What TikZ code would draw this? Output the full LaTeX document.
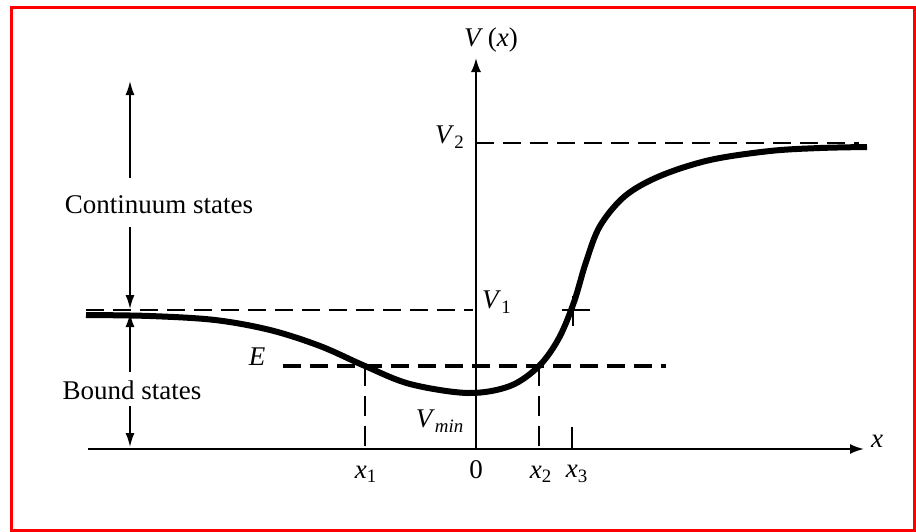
\documentclass[tikz,border=0pt]{standalone}
\usepackage{fontspec}
\setmainfont{Liberation Serif}
\usetikzlibrary{arrows.meta,positioning}
\definecolor{FrameRed}{HTML}{FF0000}

\begin{document}
\begin{tikzpicture}[x=0.5pt, y=-0.5pt,
  lbl/.style={inner sep=0pt, font=\fontsize{13.5}{16}\selectfont},
  axis/.style={line width=1pt, -{Latex[length=7pt, width=5pt]}},
  arr/.style={line width=0.8pt, -{Latex[length=7pt, width=4.5pt]}},
  level/.style={line width=1.4pt, dash pattern=on 9pt off 4.5pt},
  drop/.style={line width=0.9pt, dash pattern=on 10pt off 5pt},
  pot/.style={line width=3pt, line join=round}]
  \useasboundingbox (0,0) rectangle (916,531);
  \draw[FrameRed, line width=1.5pt] (11,7) rectangle (914,530);

  % axes
  \coordinate (O) at (476,449);
  \coordinate (xs) at (88,449);
  \coordinate (xe) at (864,449);
  \coordinate (ye) at (476,58);
  \draw[axis] (xs) -- (xe);
  \draw[axis] (O) -- (ye);
  \node[lbl] (xlab) at (877,441) {\textit{x}};
  \node[lbl] (vlab) at (491,40) {\textit{V}\,(\textit{x})};

  % energy levels
  \coordinate (v2a) at (476,143);
  \coordinate (v2b) at (859,143);
  \coordinate (v1a) at (86,310);
  \coordinate (v1b) at (473,310);
  \coordinate (ea) at (283,366);
  \coordinate (eb) at (666,366);
  \draw[level] (v2a) -- (v2b);
  \draw[level] (v1a) -- (v1b);
  \draw[level, line width=1.7pt] (ea) -- (eb);
  \node[lbl] (v2lab) at (450,137) {\textit{V}\textsubscript{2}};
  \node[lbl] (v1lab) at (497,302) {\textit{V}\textsubscript{1}};
  \node[lbl] (elab) at (257,357) {\textit{E}};
  \node[lbl] (vminlab) at (440,421) {\textit{V}\textsubscript{\textit{min}}};

  % potential curve
  \draw[pot] plot[smooth, tension=0.55] coordinates {
    (86,315) (150,316) (215,320) (270,330) (320,346) (365,366) (410,384)
    (468,393) (510,386) (539,366) (559,338) (574,302) (586,262) (600,226)
    (625,196) (660,176) (710,160) (770,151) (820,148) (867,147)};

  % turning points
  \coordinate (t1) at (365,366);
  \coordinate (t2) at (539,366);
  \draw[drop] (t1) -- (t1 |- O);
  \draw[drop] (t2) -- (t2 |- O);
  \coordinate (t3) at (573,310);
  \draw[line width=0.9pt] ([xshift=-5.5pt]t3) -- ([xshift=8.5pt]t3);
  \draw[line width=0.9pt] ([yshift=7pt]t3) -- ([yshift=-8pt]t3);
  \draw[line width=0.9pt] (572,427) -- (572,449);

  \node[lbl] (x1lab) at (366,474) {\textit{x}\textsubscript{1}};
  \node[lbl] (zlab) at (476,470) {0};
  \node[lbl] (x2lab) at (541,474) {\textit{x}\textsubscript{2}};
  \node[lbl] (x3lab) at (577,474) {\textit{x}\textsubscript{3}};

  % state ranges
  \node[lbl] (cont) at (159,205) {Continuum states};
  \node[lbl] (bound) at (132,390) {Bound states};
  \coordinate (ctop) at (130,81);
  \coordinate (cbot) at (130,309);
  \coordinate (btop) at (130,313);
  \coordinate (bbot) at (130,447);
  \draw[arr] (130,178) -- (ctop);
  \draw[arr] (130,227) -- (cbot);
  \draw[arr] (130,372) -- (btop);
  \draw[arr] (130,406) -- (bbot);
\end{tikzpicture}
\end{document}
